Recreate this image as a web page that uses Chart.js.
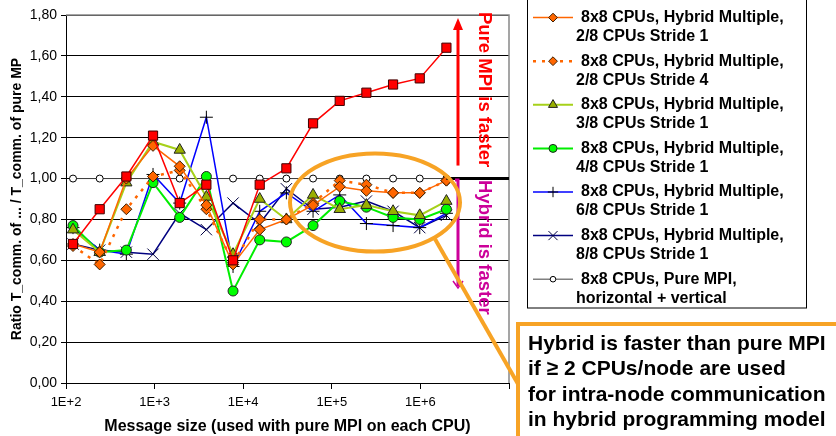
<!DOCTYPE html>
<html>
<head>
<meta charset="utf-8">
<script src="https://cdn.jsdelivr.net/npm/chart.js@4.4.0/dist/chart.umd.min.js"></script>
<style>
  html, body { margin: 0; padding: 0; background: #fff; }
  #wrap { width: 836px; height: 436px; position: relative; }
</style>
</head>
<body>
<div id="wrap"><canvas id="ratioChart" width="836" height="436"></canvas></div>
<script>
// message sizes in bytes (x positions of all series)
var msgSizes = [120, 240, 480, 960, 1920, 3840, 7680, 15360, 30720, 61440, 122880, 245760, 491520, 983040, 1966080];

// ratio T_comm(variant) / T_comm(pure MPI)
var masteronly   = [0.68, 0.85, 1.01, 1.21, 0.88, 0.97, 0.60, 0.97, 1.05, 1.27, 1.38, 1.42, 1.46, 1.49, 1.64];
var mult2Stride1 = [0.68, 0.64, 1.00, 1.16, 1.06, 0.87, 0.58, 0.75, 0.80, 0.87, 0.96, 0.94, 0.93, 0.93, 0.99];
var mult2Stride4 = [0.67, 0.58, 0.85, 1.01, 1.04, 0.85, 0.59, 0.80, 0.80, 0.88, 0.99, 0.97, 0.93, 0.93, 0.99];
var mult3Stride1 = [0.75, 0.64, 0.98, 1.18, 1.14, 0.91, 0.63, 0.90, 0.80, 0.92, 0.85, 0.87, 0.84, 0.82, 0.89];
var mult4Stride1 = [0.77, 0.64, 0.65, 0.98, 0.81, 1.01, 0.45, 0.70, 0.69, 0.77, 0.89, 0.86, 0.81, 0.80, 0.85];
var mult6Stride1 = [0.76, 0.65, 0.63, 1.02, 0.88, 1.30, 0.57, 0.84, 0.93, 0.84, 0.92, 0.78, 0.77, 0.76, 0.83];
var mult8Stride1 = [0.68, 0.65, 0.64, 0.63, 0.83, 0.75, 0.88, 0.78, 0.95, 0.85, 0.86, 0.89, 0.84, 0.76, 0.82];
var pureMPI      = [1.00, 1.00, 1.00, 1.00, 1.00, 1.00, 1.00, 1.00, 1.00, 1.00, 1.00, 1.00, 1.00, 1.00, 1.00];

var seriesLabels = [
  ['8x8 CPUs, Hybrid', 'Masteronly,'],
  ['8x8 CPUs, Hybrid Multiple,', '2/8 CPUs Stride 1'],
  ['8x8 CPUs, Hybrid Multiple,', '2/8 CPUs Stride 4'],
  ['8x8 CPUs, Hybrid Multiple,', '3/8 CPUs Stride 1'],
  ['8x8 CPUs, Hybrid Multiple,', '4/8 CPUs Stride 1'],
  ['8x8 CPUs, Hybrid Multiple,', '6/8 CPUs Stride 1'],
  ['8x8 CPUs, Hybrid Multiple,', '8/8 CPUs Stride 1'],
  ['8x8 CPUs, Pure MPI,', 'horizontal + vertical']
];

var xTicks = [1e2, 1e3, 1e4, 1e5, 1e6, 1e7];
var xTitle = 'Message size (used with pure MPI on each CPU)';
var yTitle = 'Ratio T_comm. of ... / T_comm. of pure MP';
var noteLines = [
  'Hybrid is faster than pure MPI',
  'if \u2265 2 CPUs/node are used',
  'for intra-node communication',
  'in hybrid programming model'
];

var FONT = "'Liberation Sans', Arial, sans-serif";
var ORANGE = '#f7a325';

function pts(vals) {
  return msgSizes.map(function (s, i) { return { x: s, y: vals[i] }; });
}

function series(vals, label, style) {
  return Object.assign({
    label: label,
    data: pts(vals),
    tension: 0,
    fill: false,
    pointBorderWidth: 1
  }, style);
}

var datasets = [
  series(masteronly, seriesLabels[0], {
    borderColor: '#ff0000', borderWidth: 1.5, pointStyle: 'rect', pointRadius: 6.5,
    pointBackgroundColor: '#ff0000', pointBorderColor: '#400000'
  }),
  series(mult2Stride1, seriesLabels[1], {
    borderColor: '#ff6600', borderWidth: 1.5, pointStyle: 'rectRot', pointRadius: 5.5,
    pointBackgroundColor: '#ff6600', pointBorderColor: '#402000'
  }),
  series(mult2Stride4, seriesLabels[2], {
    borderColor: '#ff6600', borderWidth: 2.5, borderDash: [3, 6], pointStyle: 'rectRot', pointRadius: 5.5,
    pointBackgroundColor: '#ff6600', pointBorderColor: '#402000'
  }),
  series(mult3Stride1, seriesLabels[3], {
    borderColor: '#a6d11a', borderWidth: 2, pointStyle: 'triangle', pointRadius: 6.5,
    pointBackgroundColor: '#99b000', pointBorderColor: '#222'
  }),
  series(mult4Stride1, seriesLabels[4], {
    borderColor: '#00ee00', borderWidth: 2, pointStyle: 'circle', pointRadius: 5,
    pointBackgroundColor: '#00ff00', pointBorderColor: '#222'
  }),
  series(mult6Stride1, seriesLabels[5], {
    borderColor: '#0000ff', borderWidth: 1.5, pointStyle: 'cross', pointRadius: 6.5,
    pointBackgroundColor: '#000', pointBorderColor: '#000'
  }),
  series(mult8Stride1, seriesLabels[6], {
    borderColor: '#000080', borderWidth: 1.5, pointStyle: 'crossRot', pointRadius: 8,
    pointBackgroundColor: '#000040', pointBorderColor: '#000040'
  }),
  series(pureMPI, seriesLabels[7], {
    borderColor: '#444', borderWidth: 1, pointStyle: 'circle', pointRadius: 3.5,
    pointBackgroundColor: '#fff', pointBorderColor: '#000'
  })
];

function marker(ctx, ds, x, y, r) {
  ctx.save();
  ctx.fillStyle = ds.pointBackgroundColor;
  ctx.strokeStyle = ds.pointBorderColor;
  ctx.lineWidth = 1;
  ctx.setLineDash([]);
  Chart.helpers.drawPoint(ctx, { pointStyle: ds.pointStyle, radius: r, rotation: 0, borderWidth: 1 }, x, y);
  ctx.restore();
}

function vText(ctx, text, x, y, color) {
  ctx.save();
  ctx.translate(x, y);
  ctx.rotate(Math.PI / 2);
  ctx.font = 'bold 18.5px ' + FONT;
  ctx.fillStyle = color;
  ctx.textAlign = 'left';
  ctx.textBaseline = 'middle';
  ctx.fillText(text, 0, 0);
  ctx.restore();
}

var decorations = {
  id: 'decorations',
  beforeDatasetsDraw: function (chart) {
    var a = chart.chartArea, ctx = chart.ctx;
    ctx.save();
    ctx.strokeStyle = '#888';
    ctx.lineWidth = 1.5;
    ctx.beginPath();
    ctx.moveTo(a.left, a.top);
    ctx.lineTo(a.right, a.top);
    ctx.lineTo(a.right, a.bottom);
    ctx.stroke();
    ctx.restore();
  },
  afterDatasetsDraw: function (chart) {
    var ctx = chart.ctx, xs = chart.scales.x, ys = chart.scales.y, a = chart.chartArea;
    var y1 = ys.getPixelForValue(1);
    var xLast = xs.getPixelForValue(msgSizes[msgSizes.length - 1]);
    ctx.save();

    // heavy 1.0 reference line to the right edge
    ctx.strokeStyle = '#000';
    ctx.lineWidth = 3;
    ctx.beginPath();
    ctx.moveTo(xLast, y1);
    ctx.lineTo(a.right, y1);
    ctx.stroke();

    // red arrow: pure MPI faster
    var ax = 458;
    ctx.strokeStyle = '#ff0000';
    ctx.fillStyle = '#ff0000';
    ctx.lineWidth = 3;
    ctx.beginPath();
    ctx.moveTo(ax, y1 - 13);
    ctx.lineTo(ax, 28);
    ctx.stroke();
    ctx.beginPath();
    ctx.moveTo(ax, 18);
    ctx.lineTo(ax - 5, 30);
    ctx.lineTo(ax + 5, 30);
    ctx.closePath();
    ctx.fill();

    // magenta arrow: hybrid faster
    ctx.strokeStyle = '#cc0099';
    ctx.lineWidth = 3;
    ctx.beginPath();
    ctx.moveTo(ax - 3, y1 + 1.5);
    ctx.lineTo(ax, y1 + 1.5);
    ctx.lineTo(ax, 286);
    ctx.stroke();
    ctx.lineWidth = 1.5;
    ctx.beginPath();
    ctx.moveTo(ax - 5, 281);
    ctx.lineTo(ax, 288);
    ctx.lineTo(ax + 5, 281);
    ctx.stroke();

    vText(ctx, 'Pure MPI is faster', 484, 12, '#ff0000');
    vText(ctx, 'Hybrid is faster', 484, 180, '#cc0099');

    // highlight ellipse and leader line
    ctx.strokeStyle = ORANGE;
    ctx.lineWidth = 4;
    ctx.beginPath();
    ctx.ellipse(375, 202.5, 85, 49, 0, 0, Math.PI * 2);
    ctx.stroke();
    ctx.beginPath();
    ctx.moveTo(435, 239);
    ctx.lineTo(518, 384);
    ctx.stroke();
    ctx.restore();
  },
  afterDraw: function (chart) {
    var ctx = chart.ctx;
    ctx.save();

    // legend box
    ctx.fillStyle = '#fff';
    ctx.fillRect(527, -10, 279, 318);
    ctx.strokeStyle = '#000';
    ctx.lineWidth = 1;
    ctx.strokeRect(527.5, -10, 279, 318);
    chart.data.datasets.forEach(function (ds, i) {
      var cy = -26 + 43.6 * i;
      ctx.save();
      ctx.strokeStyle = i === 7 ? '#808080' : ds.borderColor;
      ctx.lineWidth = Math.max(ds.borderWidth, 1.5);
      ctx.setLineDash(ds.borderDash || []);
      ctx.beginPath();
      ctx.moveTo(533, cy);
      ctx.lineTo(573, cy);
      ctx.stroke();
      ctx.restore();
      marker(ctx, ds, 553, cy, ds.pointRadius * 0.8);
      ctx.fillStyle = '#000';
      ctx.font = 'bold 16px ' + FONT;
      ctx.textAlign = 'left';
      ctx.textBaseline = 'middle';
      ctx.fillText(ds.label[0], 581, cy);
      ctx.fillText(ds.label[1], 576, cy + 19);
    });

    // callout box
    ctx.fillStyle = '#fff';
    ctx.fillRect(518, 324, 330, 130);
    ctx.strokeStyle = ORANGE;
    ctx.lineWidth = 4;
    ctx.strokeRect(518, 324, 330, 130);
    ctx.fillStyle = '#000';
    ctx.font = 'bold 21px ' + FONT;
    ctx.textAlign = 'left';
    ctx.textBaseline = 'middle';
    noteLines.forEach(function (t, i) {
      ctx.fillText(t, 528, 344 + 25.5 * i);
    });
    ctx.restore();
  }
};

var config = {
  type: 'line',
  data: { datasets: datasets },
  options: {
    responsive: false,
    animation: false,
    layout: { padding: { top: 15, right: 327, left: 0, bottom: 0 } },
    plugins: {
      legend: { display: false },
      tooltip: { enabled: false }
    },
    scales: {
      x: {
        type: 'logarithmic',
        min: 100,
        max: 1e7,
        afterBuildTicks: function (s) {
          s.ticks = xTicks.map(function (v) { return { value: v }; });
        },
        afterFit: function (s) { s.height = 53; },
        ticks: {
          autoSkip: false,
          maxRotation: 0,
          padding: 6,
          color: '#000',
          font: { family: FONT, size: 13 },
          callback: function (v) {
            return v >= 1e7 ? '' : '1E+' + Math.round(Math.log10(v));
          }
        },
        grid: { drawOnChartArea: false, tickLength: 6, color: '#000' },
        border: { color: '#000', width: 1 },
        title: {
          display: true,
          text: xTitle,
          color: '#000',
          font: { family: FONT, size: 16, weight: 'bold' },
          padding: { top: 0, bottom: 0 }
        }
      },
      y: {
        min: 0,
        max: 1.8,
        afterFit: function (s) { s.width = 66; },
        ticks: {
          stepSize: 0.2,
          padding: 4,
          color: '#000',
          font: { family: FONT, size: 14 },
          callback: function (v) { return v.toFixed(2).replace('.', ','); }
        },
        grid: { color: '#000', lineWidth: 1, tickLength: 5 },
        border: { color: '#000', width: 1 },
        title: {
          display: true,
          text: yTitle,
          color: '#000',
          font: { family: FONT, size: 14, weight: 'bold' },
          padding: { top: 9, bottom: 0 }
        }
      }
    }
  },
  plugins: [decorations]
};

var ctx = document.getElementById('ratioChart').getContext('2d');
var ratioChart = new Chart(ctx, config);
</script>
</body>
</html>
